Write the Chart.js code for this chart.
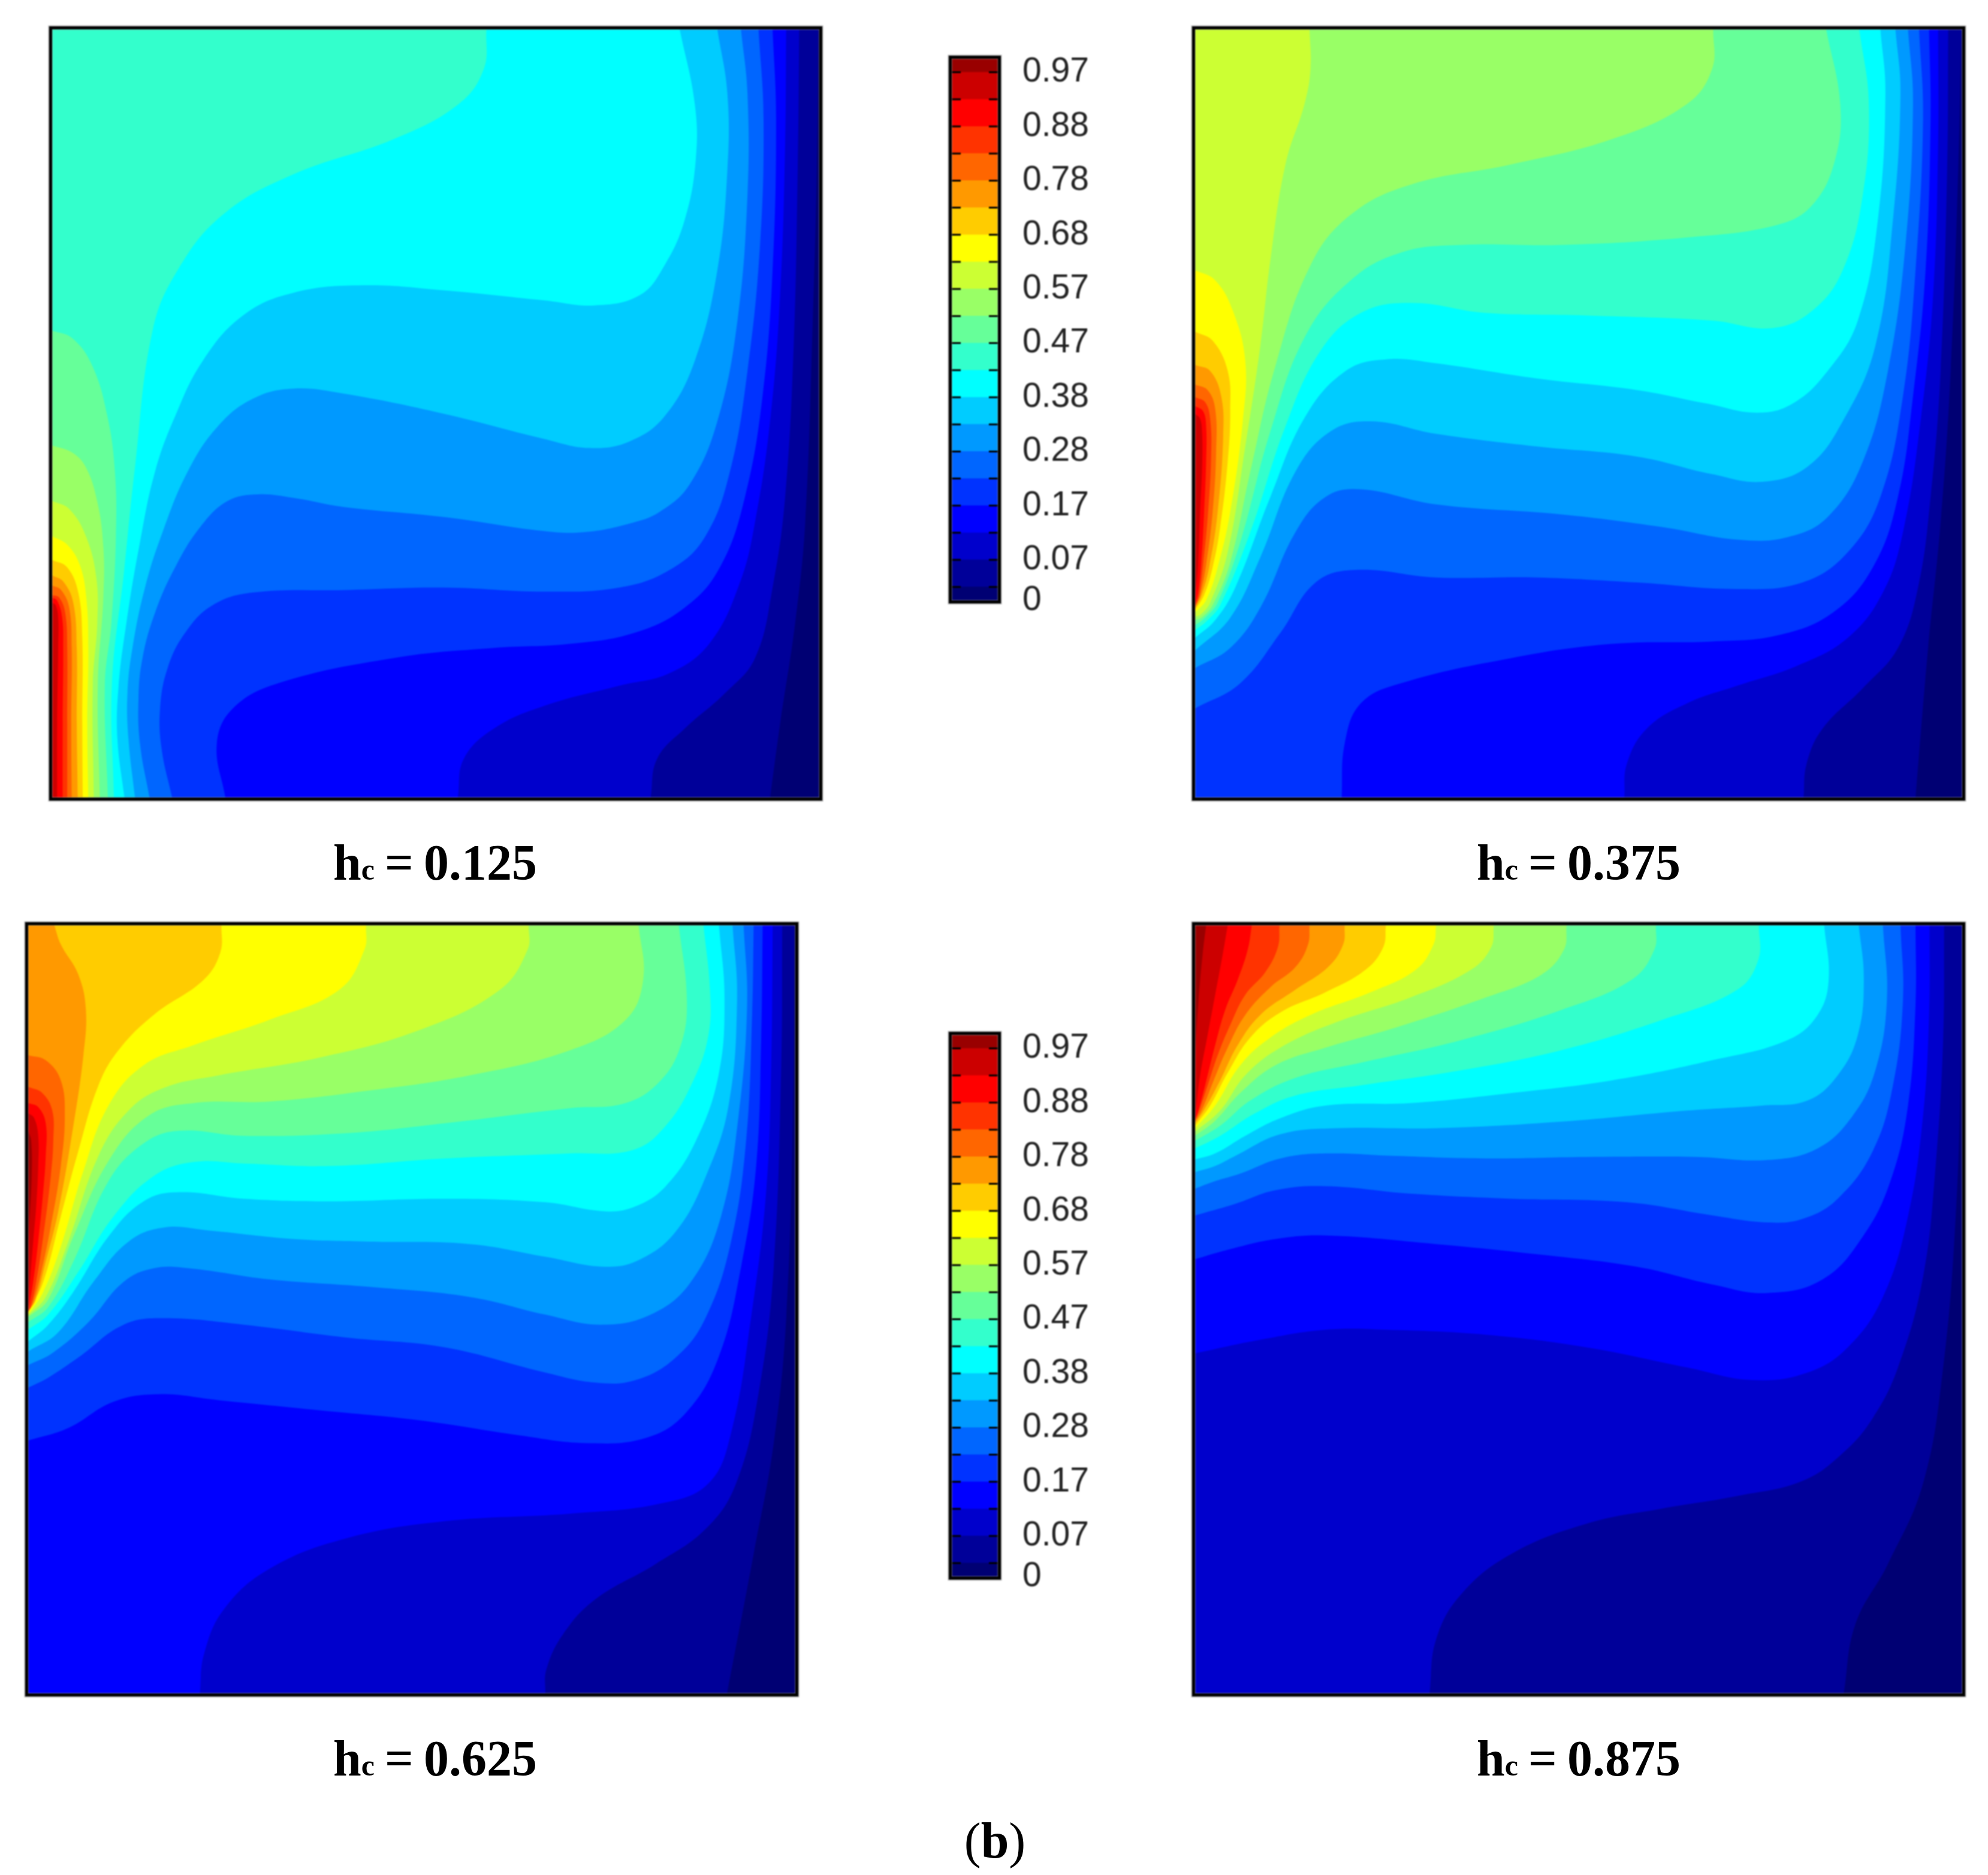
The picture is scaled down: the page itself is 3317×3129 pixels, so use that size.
<!DOCTYPE html>
<html>
<head>
  <title>Temperature contours</title>
  <script src="https://cdn.jsdelivr.net/npm/chart.js"></script>
  <style>
    html, body { margin: 0; background: #fff; }
    #page { position: relative; width: 3317px; height: 3129px; overflow: hidden; }
    canvas { position: absolute; filter: blur(1px); }
    .cap {
      position: absolute; width: 600px; height: 100px; line-height: 100px; text-align: center;
      font-family: "Liberation Serif", serif; font-weight: bold; font-size: 84px; color: #000;
      word-spacing: -4px; white-space: nowrap;
    }
    .cap span { font-size: 50px; }
    .cap i { font-style: normal; font-weight: normal; }
  </style>
</head>
<body>
<div id="page">
  <canvas id="p125" width="1296" height="1298" style="left:79px;top:41px"></canvas>
  <canvas id="p375" width="1296" height="1298" style="left:1986px;top:41px"></canvas>
  <canvas id="p625" width="1296" height="1298" style="left:39px;top:1536px"></canvas>
  <canvas id="p875" width="1296" height="1298" style="left:1986px;top:1536px"></canvas>
  <canvas id="bar1" width="265" height="1000" style="left:1575px;top:60px"></canvas>
  <canvas id="bar2" width="265" height="1000" style="left:1575px;top:1689px"></canvas>

  <div class="cap" style="left:426px;top:1390px">h<span>c</span> = 0.125</div>
  <div class="cap" style="left:2334px;top:1390px">h<span>c</span> = 0.375</div>
  <div class="cap" style="left:426px;top:2885px">h<span>c</span> = 0.625</div>
  <div class="cap" style="left:2334px;top:2885px">h<span>c</span> = 0.875</div>
  <div class="cap" style="left:1360px;top:3022px"><i>(</i>b<i>)</i></div>
</div>

<script>
// colour of each band, coldest first
const bandColors = ['#000073', '#000099', '#0000cc', '#0000ff', '#0033ff', '#0066ff', '#0099ff', '#00ccff',
  '#00ffff', '#33ffcc', '#66ff99', '#99ff66', '#ccff33', '#ffff00', '#ffcc00', '#ff9900', '#ff6600',
  '#ff3300', '#ff0000', '#cc0000', '#990000'];

// colour bar
const bandWidths = [0.025, 0.05, 0.05, 0.05, 0.05, 0.05, 0.05, 0.05, 0.05, 0.05, 0.05, 0.05, 0.05, 0.05,
  0.05, 0.05, 0.05, 0.05, 0.05, 0.05, 0.025];
const barLevels = [0.025, 0.075, 0.125, 0.175, 0.225, 0.275, 0.325, 0.375, 0.425, 0.475, 0.525, 0.575,
  0.625, 0.675, 0.725, 0.775, 0.825, 0.875, 0.925, 0.975];
const barTicks = [0, 0.075, 0.175, 0.275, 0.375, 0.475, 0.575, 0.675, 0.775, 0.875, 0.975];
const barTickLabels = ['0', '0.07', '0.17', '0.28', '0.38', '0.47', '0.57', '0.68', '0.78', '0.88', '0.97'];

// contour lines, in the cavity's own 20..1548 / 22..1547 grid (y counted from the top).
// each entry is the edge of one band and of everything hotter, list index + 1 = bandColors index
const contours125 = [
  [[1546,22],[1543,300],[1535,600],[1520,1000],[1500,1200],[1470,1400],[1450,1547]],
  [[1508,22],[1505,300],[1497,650],[1480,950],[1455,1130],[1420,1270],[1360,1340],[1280,1410],[1225,1470],[1212,1547]],
  [[1482,22],[1480,250],[1470,550],[1450,800],[1420,1000],[1390,1120],[1330,1240],[1250,1300],[1150,1325],[1000,1365],[900,1410],[840,1470],[828,1547]],
  [[1455,22],[1462,200],[1455,500],[1435,750],[1400,950],[1350,1090],[1280,1170],[1180,1220],[1050,1242],[900,1250],[700,1270],[470,1320],[380,1370],[348,1440],[365,1547]],
  [[1427,22],[1437,200],[1430,450],[1405,700],[1370,900],[1320,1030],[1250,1095],[1150,1130],[1000,1138],[800,1130],[600,1135],[420,1140],[340,1165],[285,1220],[250,1290],[235,1370],[238,1450],[259,1547]],
  [[1392,22],[1405,150],[1405,350],[1385,600],[1345,800],[1290,925],[1230,980],[1170,1003],[1080,1020],[1000,1018],[800,990],[600,970],[500,952],[430,945],[370,958],[315,1010],[265,1090],[225,1180],[200,1270],[192,1350],[195,1440],[214,1547]],
  [[1345,22],[1365,150],[1365,300],[1345,500],[1300,680],[1240,790],[1170,840],[1090,853],[1000,835],[800,785],[600,745],[500,735],[420,755],[350,810],[290,900],[240,1020],[205,1130],[180,1250],[170,1340],[172,1430],[185,1547]],
  [[1270,22],[1300,170],[1302,280],[1280,400],[1240,490],[1190,550],[1100,570],[1000,560],[800,540],[640,530],[500,545],[400,590],[320,680],[265,790],[225,900],[195,1040],[168,1200],[152,1330],[150,1430],[164,1547]],
  [[885,22],[880,100],[830,170],[700,240],[500,310],[360,390],[270,500],[220,620],[185,891],[163,1100],[139,1323],[143,1547]],
  [[20,620],[60,635],[100,690],[130,790],[145,900],[147,1030],[138,1200],[125,1323],[131,1547]],
  [[20,848],[60,862],[87,891],[110,960],[122,1050],[122,1150],[111,1323],[115,1547]],
  [[20,958],[55,975],[88,1030],[108,1110],[110,1200],[101,1323],[103,1547]],
  [[20,1028],[50,1045],[75,1085],[88,1150],[92,1250],[90,1400],[92,1547]],
  [[20,1075],[50,1090],[72,1140],[80,1230],[80,1400],[81,1547]],
  [[20,1106],[42,1118],[62,1160],[69,1250],[69,1400],[71,1547]],
  [[20,1126],[38,1135],[54,1170],[59,1250],[58,1400],[59,1547]],
  [[20,1145],[34,1150],[46,1180],[50,1250],[50,1400],[50,1547]],
  [[20,1150],[30,1156],[40,1190],[42,1250],[41,1400],[41,1547]],
  [[20,1160],[27,1165],[32,1190],[32,1250],[30,1400],[30,1547]]
];
const contours375 = [
  [[1546,22],[1540,300],[1525,700],[1505,1000],[1480,1250],[1455,1547]],
  [[1520,22],[1518,300],[1505,700],[1485,950],[1460,1130],[1420,1250],[1350,1330],[1270,1410],[1238,1480],[1232,1547]],
  [[1500,22],[1500,250],[1490,550],[1465,800],[1430,1020],[1390,1140],[1320,1230],[1220,1285],[1100,1325],[1000,1360],[920,1410],[880,1480],[875,1547]],
  [[1482,22],[1485,200],[1475,500],[1450,750],[1420,950],[1370,1090],[1290,1180],[1180,1225],[1050,1237],[850,1242],[650,1270],[430,1320],[350,1360],[318,1440],[312,1547]],
  [[1462,22],[1470,200],[1455,500],[1430,750],[1385,950],[1320,1060],[1230,1120],[1100,1133],[900,1120],[700,1110],[500,1110],[340,1095],[260,1120],[190,1220],[110,1320],[20,1370]],
  [[1440,22],[1450,170],[1435,450],[1400,700],[1350,880],[1280,990],[1200,1030],[1100,1035],[950,1010],[750,985],[500,965],[350,935],[280,950],[220,1020],[150,1170],[90,1250],[20,1290]],
  [[1415,22],[1425,150],[1410,400],[1375,650],[1310,800],[1240,890],[1150,920],[1050,905],[900,870],[700,850],[500,825],[370,800],[290,820],[220,900],[150,1070],[90,1190],[20,1255]],
  [[1385,22],[1395,150],[1380,400],[1340,600],[1280,700],[1210,765],[1140,783],[1040,765],[900,738],[700,715],[500,685],[400,677],[320,700],[240,790],[170,950],[100,1130],[60,1195],[20,1230]],
  [[1343,22],[1362,170],[1350,350],[1310,500],[1250,580],[1170,615],[1050,600],[800,590],[600,585],[450,565],[350,585],[270,660],[200,810],[130,1020],[70,1165],[45,1195],[20,1215]],
  [[1277,22],[1305,170],[1295,280],[1250,370],[1180,410],[1000,435],[750,450],[550,450],[430,465],[330,520],[240,630],[170,820],[110,1040],[65,1160],[40,1190],[20,1205]],
  [[1052,22],[1050,100],[1000,170],[850,240],[650,290],[450,330],[330,390],[250,490],[180,690],[130,900],[90,1080],[55,1165],[35,1188],[20,1195]],
  [[248,22],[250,100],[238,170],[200,290],[170,480],[150,650],[120,850],[85,1060],[50,1160],[32,1183],[20,1188]],
  [[20,500],[60,520],[95,580],[120,680],[115,800],[90,980],[65,1090],[42,1155],[20,1180]],
  [[20,622],[55,640],[85,700],[90,780],[85,880],[70,1010],[55,1090],[38,1145],[20,1175]],
  [[20,688],[50,700],[72,750],[76,830],[65,980],[48,1090],[33,1145],[20,1172]],
  [[20,727],[45,738],[60,775],[62,860],[55,980],[42,1085],[30,1145],[20,1170]],
  [[20,752],[40,762],[50,795],[52,870],[46,980],[36,1085],[28,1145],[20,1168]],
  [[20,770],[36,780],[42,810],[42,880],[38,980],[32,1085],[26,1140],[20,1165]],
  [[20,785],[30,795],[34,825],[34,890],[30,980],[26,1085],[20,1150]]
];
const contours625 = [
  [[1546,22],[1543,400],[1530,800],[1505,1050],[1465,1270],[1412,1547]],
  [[1522,22],[1520,300],[1505,700],[1475,950],[1430,1130],[1370,1220],[1270,1290],[1150,1360],[1085,1430],[1052,1500],[1050,1547]],
  [[1503,22],[1500,300],[1490,550],[1460,800],[1420,1030],[1375,1130],[1280,1170],[1100,1190],[850,1205],[650,1240],[500,1300],[410,1380],[370,1470],[362,1547]],
  [[1483,22],[1480,250],[1470,500],[1440,700],[1395,880],[1330,990],[1250,1040],[1130,1050],[1000,1035],[800,1005],[600,985],[400,965],[280,953],[190,968],[100,1020],[20,1045]],
  [[1465,22],[1462,200],[1450,450],[1420,650],[1370,800],[1310,880],[1230,925],[1150,930],[1050,910],[850,860],[650,840],[450,815],[290,802],[210,815],[120,880],[60,920],[20,940]],
  [[1445,22],[1452,180],[1435,400],[1400,600],[1340,730],[1260,795],[1160,815],[1050,795],[900,760],[700,740],[500,725],[340,703],[270,703],[210,730],[140,810],[70,870],[20,895]],
  [[1423,22],[1432,170],[1415,380],[1370,520],[1310,630],[1240,685],[1170,700],[1050,680],[900,655],[700,650],[550,645],[380,628],[290,622],[220,650],[150,730],[80,830],[20,868]],
  [[1396,22],[1407,170],[1395,320],[1350,450],[1290,540],[1230,580],[1170,590],[1050,572],[850,565],[620,570],[450,565],[320,552],[250,570],[180,640],[110,750],[60,815],[20,848]],
  [[1365,22],[1378,150],[1375,240],[1345,330],[1290,420],[1225,468],[1100,475],[850,485],[620,500],[450,495],[350,492],[270,520],[190,600],[120,710],[60,795],[20,825]],
  [[1316,22],[1332,170],[1320,260],[1280,330],[1210,375],[1100,385],[850,415],[650,435],[450,440],[320,430],[250,455],[180,530],[110,690],[60,780],[20,810]],
  [[1236,22],[1245,130],[1210,210],[1100,270],[900,320],[700,350],[500,372],[350,375],[260,400],[180,490],[110,640],[60,765],[20,800]],
  [[1017,22],[1015,70],[960,150],[800,230],[600,285],[400,320],[290,345],[220,390],[160,480],[100,650],[55,760],[20,797]],
  [[693,22],[690,70],[640,150],[500,210],[350,260],[250,300],[180,380],[130,510],[85,660],[50,750],[20,795]],
  [[405,22],[403,75],[370,130],[270,200],[200,270],[160,340],[120,470],[85,600],[50,730],[20,790]],
  [[72,22],[85,60],[120,120],[135,190],[130,280],[110,420],[80,590],[55,690],[35,765],[20,790]],
  [[20,280],[55,290],[85,330],[93,400],[85,500],[65,620],[45,715],[30,770],[20,790]],
  [[20,343],[48,355],[68,390],[70,450],[65,520],[50,640],[36,730],[25,780],[20,788]],
  [[20,375],[40,383],[55,415],[55,480],[50,550],[40,650],[30,730],[20,788]],
  [[20,395],[32,405],[40,440],[40,500],[36,580],[30,650],[22,750],[20,785]],
  [[20,430],[26,450],[27,520],[22,620],[20,660]]
];
const contours875 = [
  [[1547,22],[1545,300],[1535,600],[1510,900],[1470,1130],[1400,1290],[1335,1410],[1312,1547]],
  [[1512,22],[1510,250],[1495,500],[1470,720],[1420,900],[1370,1000],[1310,1070],[1230,1125],[1100,1155],[950,1180],[800,1210],[650,1270],[550,1350],[500,1440],[487,1547]],
  [[1483,22],[1482,200],[1470,400],[1440,600],[1390,760],[1320,860],[1240,910],[1130,925],[1000,900],[800,860],[600,835],[400,825],[280,825],[150,845],[20,872]],
  [[1455,22],[1455,180],[1440,380],[1405,530],[1350,640],[1270,725],[1160,752],[1050,735],[900,700],[700,675],[500,655],[280,638],[180,645],[90,665],[20,685]],
  [[1425,22],[1430,170],[1410,340],[1370,470],[1300,565],[1230,605],[1160,612],[1050,598],[880,572],[650,565],[450,555],[280,540],[180,548],[100,575],[20,598]],
  [[1390,22],[1398,170],[1375,310],[1330,400],[1260,465],[1160,488],[1020,482],[800,482],[600,485],[420,480],[280,475],[190,485],[110,515],[60,530],[20,545]],
  [[1342,22],[1352,130],[1340,240],[1300,320],[1240,370],[1150,380],[1000,390],[750,412],[500,425],[300,425],[190,437],[100,480],[60,500],[20,512]],
  [[1273,22],[1282,130],[1260,200],[1200,250],[1050,290],[850,330],[650,355],[450,375],[280,380],[190,405],[120,440],[60,475],[20,487]],
  [[1143,22],[1142,90],[1100,150],[950,210],[750,270],[550,310],[350,340],[220,360],[140,395],[70,440],[20,465]],
  [[938,22],[935,70],[890,130],[750,190],[550,250],[350,295],[220,325],[130,370],[70,420],[20,450]],
  [[760,22],[755,70],[710,120],[600,165],[420,225],[280,265],[180,300],[110,355],[60,410],[20,440]],
  [[615,22],[610,65],[570,110],[450,165],[300,215],[190,265],[120,320],[70,390],[20,432]],
  [[500,22],[495,60],[460,110],[370,155],[250,200],[170,245],[110,300],[60,380],[20,425]],
  [[400,22],[395,65],[360,110],[280,155],[190,195],[130,245],[85,315],[50,380],[20,420]],
  [[318,22],[315,60],[285,105],[220,150],[150,200],[105,260],[70,330],[40,385],[20,415]],
  [[248,22],[245,60],[220,105],[170,145],[120,200],[85,265],[55,335],[35,385],[20,412]],
  [[188,22],[185,65],[160,115],[120,160],[90,220],[65,280],[45,340],[30,385],[20,410]],
  [[133,22],[125,70],[105,130],[80,190],[60,260],[40,340],[25,395],[20,408]],
  [[85,22],[75,80],[60,160],[45,240],[30,320],[22,385],[20,405]],
  [[42,22],[35,80],[27,170],[22,250],[20,330]]
];

function frame(ctx, a) {
  ctx.save();
  ctx.strokeStyle = '#b0b0b0';
  ctx.lineWidth = 7;
  ctx.strokeRect(a.left - 3, a.top - 3, a.right - a.left + 6, a.bottom - a.top + 6);
  ctx.strokeStyle = '#000';
  ctx.lineWidth = 5;
  ctx.strokeRect(a.left - 2.5, a.top - 2.5, a.right - a.left + 5, a.bottom - a.top + 5);
  ctx.restore();
}

// fills each contour out to the hot wall, coldest first so the hotter ones paint over
const contourFill = {
  id: 'contourFill',
  beforeDatasetsDraw(chart) {
    const { ctx, chartArea: a, scales: { x, y } } = chart;
    ctx.save();
    ctx.beginPath();
    ctx.rect(a.left, a.top, a.right - a.left, a.bottom - a.top);
    ctx.clip();
    ctx.fillStyle = bandColors[0];
    ctx.fillRect(a.left, a.top, a.right - a.left, a.bottom - a.top);
    chart.data.datasets.forEach((ds, i) => {
      const line = chart.getDatasetMeta(i).dataset;
      const wall = x.getPixelForValue(x.min);
      line.updateControlPoints(a, 'x');
      ctx.beginPath();
      line.path(ctx);
      ctx.lineTo(wall, y.getPixelForValue(ds.data[ds.data.length - 1].y));
      ctx.lineTo(wall, y.getPixelForValue(ds.data[0].y));
      ctx.closePath();
      ctx.fillStyle = bandColors[i + 1];
      ctx.fill();
    });
    ctx.restore();
  },
  afterDatasetsDraw(chart) {
    frame(chart.ctx, chart.chartArea);
  }
};

function drawPanel(id, contours) {
  new Chart(document.getElementById(id), {
    type: 'scatter',
    data: {
      datasets: contours.map((pts, i) => ({
        label: 'band ' + (i + 1),
        data: pts.map(p => ({ x: p[0], y: p[1] })),
        showLine: true,
        tension: 0.4,
        borderWidth: 0,
        pointRadius: 0
      }))
    },
    options: {
      responsive: false,
      animation: false,
      layout: { padding: 8 },
      plugins: { legend: { display: false }, tooltip: { enabled: false } },
      scales: {
        x: { type: 'linear', display: false, min: 20, max: 1548 },
        y: { type: 'linear', display: false, min: 22, max: 1547, reverse: true }
      }
    },
    plugins: [contourFill]
  });
}

// short marks on both sides of the bar, one at each level
const barMarks = {
  id: 'barMarks',
  afterDatasetsDraw(chart) {
    const { ctx, chartArea: a, scales: { y } } = chart;
    ctx.save();
    ctx.strokeStyle = '#000';
    ctx.lineWidth = 3;
    barLevels.forEach(v => {
      const py = y.getPixelForValue(v);
      ctx.beginPath();
      ctx.moveTo(a.left, py);
      ctx.lineTo(a.left + 15, py);
      ctx.moveTo(a.right - 15, py);
      ctx.lineTo(a.right, py);
      ctx.stroke();
    });
    ctx.restore();
    frame(ctx, a);
  }
};

function drawBar(id) {
  new Chart(document.getElementById(id), {
    type: 'bar',
    data: {
      labels: ['T'],
      datasets: bandWidths.map((w, i) => ({
        label: 'band ' + i,
        data: [w],
        backgroundColor: bandColors[i],
        borderWidth: 0,
        barPercentage: 1,
        categoryPercentage: 1
      }))
    },
    options: {
      responsive: false,
      animation: false,
      layout: { padding: { left: 13, right: 0, top: 38, bottom: 58 } },
      plugins: { legend: { display: false }, tooltip: { enabled: false } },
      scales: {
        x: { display: false, stacked: true },
        y: {
          stacked: true,
          position: 'right',
          min: 0,
          max: 1,
          grid: { display: false, drawTicks: false },
          border: { display: false },
          afterFit: s => { s.width = 175; s.paddingTop = 0; s.paddingBottom = 0; },
          afterBuildTicks: s => { s.ticks = barTicks.map(v => ({ value: v })); },
          ticks: {
            autoSkip: false,
            padding: 41,
            color: '#222',
            font: { family: '"Liberation Sans"', size: 57 },
            callback: (v, i) => barTickLabels[i]
          }
        }
      }
    },
    plugins: [barMarks]
  });
}

drawPanel('p125', contours125);
drawPanel('p375', contours375);
drawPanel('p625', contours625);
drawPanel('p875', contours875);
drawBar('bar1');
drawBar('bar2');
</script>
</body>
</html>
